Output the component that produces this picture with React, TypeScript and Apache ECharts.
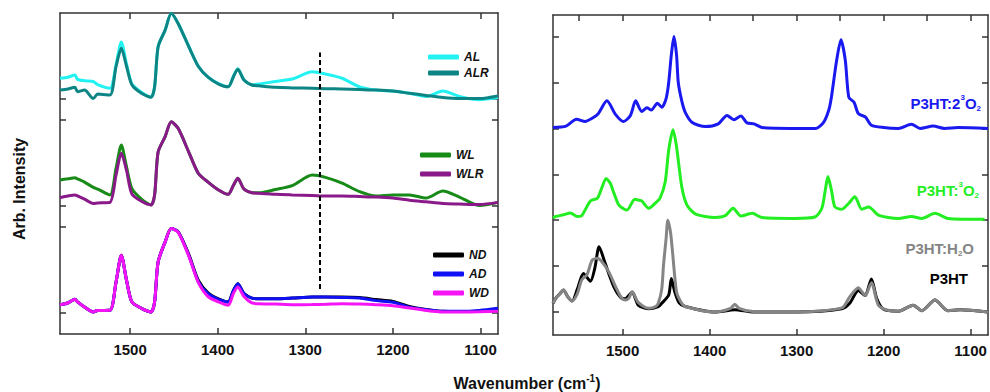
import React, { useEffect, useRef } from "react";
import * as echarts from "echarts";

// ---------- Left panel (shared wavenumber grid) ----------
const leftWave = [1580, 1571, 1563, 1560, 1552, 1542, 1537, 1523, 1516, 1510, 1504, 1498, 1487, 1476, 1472, 1468, 1460, 1453, 1445, 1433, 1422, 1411, 1399, 1388, 1382, 1377, 1370, 1361, 1353, 1334, 1315, 1292, 1277, 1258, 1238, 1219, 1200, 1181, 1162, 1143, 1124, 1101, 1080];

const alValues = [2.39, 2.40, 2.42, 2.38, 2.367, 2.36, 2.33, 2.296, 2.52, 2.73, 2.52, 2.34, 2.26, 2.215, 2.31, 2.685, 2.84, 2.995, 2.90, 2.69, 2.50, 2.40, 2.34, 2.31, 2.41, 2.48, 2.375, 2.33, 2.336, 2.36, 2.383, 2.45, 2.43, 2.39, 2.31, 2.28, 2.27, 2.25, 2.22, 2.27, 2.22, 2.19, 2.21];
const alrValues = [2.28, 2.29, 2.305, 2.265, 2.28, 2.20, 2.243, 2.233, 2.50, 2.67, 2.50, 2.33, 2.25, 2.212, 2.31, 2.685, 2.84, 2.995, 2.90, 2.685, 2.50, 2.40, 2.336, 2.31, 2.405, 2.474, 2.374, 2.327, 2.32, 2.305, 2.30, 2.296, 2.293, 2.29, 2.285, 2.28, 2.27, 2.25, 2.23, 2.21, 2.20, 2.20, 2.224];

const wlValues = [1.44, 1.45, 1.46, 1.45, 1.42, 1.37, 1.355, 1.30, 1.55, 1.766, 1.56, 1.36, 1.26, 1.206, 1.30, 1.70, 1.845, 1.984, 1.92, 1.70, 1.50, 1.42, 1.346, 1.305, 1.39, 1.455, 1.355, 1.32, 1.32, 1.35, 1.386, 1.486, 1.464, 1.41, 1.33, 1.29, 1.30, 1.30, 1.27, 1.336, 1.28, 1.20, 1.23];
const wlrValues = [1.274, 1.29, 1.30, 1.29, 1.26, 1.22, 1.225, 1.23, 1.486, 1.69, 1.526, 1.31, 1.24, 1.206, 1.30, 1.70, 1.845, 1.984, 1.92, 1.70, 1.50, 1.42, 1.346, 1.305, 1.39, 1.455, 1.355, 1.32, 1.315, 1.305, 1.30, 1.295, 1.29, 1.29, 1.285, 1.28, 1.27, 1.25, 1.235, 1.22, 1.215, 1.21, 1.23];

const ndValues = [0.274, 0.29, 0.324, 0.30, 0.252, 0.206, 0.22, 0.221, 0.486, 0.735, 0.50, 0.30, 0.24, 0.206, 0.30, 0.673, 0.86, 0.985, 0.955, 0.745, 0.50, 0.385, 0.328, 0.30, 0.408, 0.47, 0.377, 0.335, 0.33, 0.33, 0.336, 0.346, 0.345, 0.345, 0.34, 0.322, 0.305, 0.258, 0.23, 0.212, 0.21, 0.212, 0.232];
const adValues = [0.274, 0.29, 0.324, 0.30, 0.252, 0.206, 0.22, 0.221, 0.486, 0.735, 0.50, 0.30, 0.24, 0.206, 0.30, 0.673, 0.86, 0.985, 0.953, 0.735, 0.486, 0.377, 0.324, 0.30, 0.408, 0.47, 0.377, 0.335, 0.33, 0.33, 0.336, 0.346, 0.345, 0.342, 0.336, 0.312, 0.296, 0.25, 0.228, 0.212, 0.212, 0.22, 0.24];
const wdValues = [0.274, 0.29, 0.324, 0.30, 0.252, 0.206, 0.22, 0.221, 0.486, 0.735, 0.50, 0.30, 0.24, 0.206, 0.30, 0.673, 0.86, 0.985, 0.95, 0.73, 0.48, 0.35, 0.30, 0.268, 0.38, 0.44, 0.35, 0.29, 0.283, 0.28, 0.274, 0.275, 0.278, 0.283, 0.28, 0.274, 0.265, 0.243, 0.22, 0.206, 0.206, 0.208, 0.212];

// ---------- Right panel ----------
const blueWave = [1580, 1565, 1553, 1543, 1535, 1528, 1518, 1508, 1499, 1491, 1485, 1478, 1472, 1467, 1460, 1455, 1450, 1447, 1444, 1441, 1438, 1436, 1432, 1428, 1420, 1405, 1390, 1380, 1372, 1364, 1357, 1349, 1340, 1300, 1278, 1269, 1263, 1260, 1254, 1249, 1244, 1240, 1234, 1229, 1221, 1214, 1200, 1183, 1168, 1158, 1143, 1130, 1114, 1080];
const blueValues = [4.02, 4.05, 4.2, 4.15, 4.22, 4.32, 4.6, 4.3, 4.15, 4.28, 4.6, 4.37, 4.45, 4.4, 4.55, 4.46, 4.65, 5.0, 5.6, 6.0, 5.6, 5.0, 4.6, 4.35, 4.13, 4.04, 4.1, 4.28, 4.19, 4.27, 4.12, 4.1, 4.02, 4.0, 4.0, 4.13, 4.4, 4.68, 5.48, 5.93, 5.48, 4.68, 4.57, 4.32, 4.25, 4.07, 4.02, 4.0, 4.09, 4.0, 4.05, 4.0, 4.02, 4.0];

const greenWave = [1580, 1577, 1568, 1560, 1552, 1547, 1537, 1529, 1524, 1519, 1514, 1510, 1505, 1502, 1495, 1486, 1482, 1478, 1470, 1462, 1457, 1451, 1447, 1442, 1438, 1432, 1426, 1416, 1394, 1382, 1373, 1364, 1351, 1340, 1302, 1279, 1271, 1267, 1264, 1260, 1256, 1248, 1240, 1233, 1225, 1217, 1206, 1183, 1168, 1156, 1141, 1126, 1084];
const greenValues = [2.05, 2.08, 2.12, 2.16, 2.08, 2.1, 2.42, 2.48, 2.7, 2.91, 2.8, 2.59, 2.35, 2.29, 2.22, 2.455, 2.44, 2.42, 2.26, 2.38, 2.48, 2.84, 3.53, 3.97, 3.6, 2.73, 2.33, 2.135, 2.06, 2.1, 2.26, 2.09, 2.15, 2.06, 2.04, 2.07, 2.26, 2.66, 2.95, 2.66, 2.29, 2.24, 2.37, 2.51, 2.24, 2.29, 2.11, 2.04, 2.08, 2.04, 2.15, 2.04, 2.02];

const grayWave = [1580, 1577, 1572, 1568, 1563, 1558, 1552, 1547, 1541, 1535, 1529, 1524, 1516, 1508, 1502, 1497, 1493, 1489, 1482, 1470, 1462, 1459, 1455, 1453, 1450, 1448, 1445, 1443, 1438, 1433, 1428, 1394, 1376, 1371, 1366, 1350, 1300, 1248, 1239, 1229, 1224, 1221, 1214, 1206, 1195, 1183, 1166, 1156, 1141, 1126, 1112, 1080];
const grayValues = [0.19, 0.3, 0.4, 0.48, 0.33, 0.24, 0.4, 0.7, 0.81, 1.13, 1.17, 1.1, 0.88, 0.55, 0.33, 0.26, 0.3, 0.44, 0.21, 0.08, 0.12, 0.19, 0.5, 1.02, 1.6, 2.0, 1.75, 1.39, 0.44, 0.22, 0.12, 0.0, 0.08, 0.17, 0.08, 0.01, 0.0, 0.09, 0.33, 0.53, 0.42, 0.36, 0.64, 0.15, 0.04, 0.02, 0.15, 0.03, 0.26, 0.03, 0.05, 0.0];

const blackWave = [1580, 1577, 1572, 1568, 1563, 1558, 1552, 1545, 1537, 1532, 1527, 1520, 1510, 1501, 1497, 1489, 1482, 1470, 1459, 1455, 1447, 1444, 1440, 1435, 1428, 1394, 1371, 1350, 1300, 1248, 1239, 1229, 1224, 1221, 1214, 1208, 1200, 1183, 1166, 1156, 1141, 1126, 1112, 1080];
const blackValues = [0.19, 0.3, 0.4, 0.48, 0.33, 0.24, 0.5, 0.84, 0.67, 0.95, 1.42, 1.06, 0.55, 0.3, 0.29, 0.43, 0.15, 0.07, 0.12, 0.19, 0.37, 0.73, 0.44, 0.2, 0.12, 0.0, 0.05, 0.0, 0.0, 0.07, 0.19, 0.47, 0.4, 0.36, 0.72, 0.3, 0.06, 0.02, 0.15, 0.03, 0.26, 0.03, 0.05, 0.0];

// ---------- Axis ticks / labels ----------
const xLabelValues = [1500, 1400, 1300, 1200, 1100];
const xMinorTicks = [1550, 1500, 1450, 1400, 1350, 1300, 1250, 1200, 1150, 1100];
const leftYTicks = [0.2, 1.0, 1.2, 2.0, 2.2];
const rightYTicks = [0, 1, 2, 3, 4, 5, 6];
const dashedLineWave = 1283;
const dashedLineRange = [0.42, 2.63];

const FONT = 'Arial, "Liberation Sans", sans-serif';
const FRAME = "#333";

const zip = (xs: number[], ys: number[]) => xs.map((x, i) => [x, ys[i]]);

function xAxisDef(gridIndex: number, position: "top" | "bottom", showLabels: boolean, ticks: number[]) {
  return {
    type: "value",
    gridIndex,
    position,
    min: 1080,
    max: 1580,
    inverse: true,
    axisLine: { show: true, onZero: false, lineStyle: { color: FRAME, width: 1.5 } },
    axisTick: { show: true, inside: true, length: 6, customValues: ticks, lineStyle: { color: FRAME, width: 1.5 } },
    axisLabel: {
      show: showLabels,
      customValues: xLabelValues,
      formatter: (v: number) => String(v),
      margin: 8,
      color: "#111",
      fontSize: 15,
      fontWeight: "bold",
      fontFamily: FONT,
    },
    splitLine: { show: false },
  };
}

function yAxisDef(gridIndex: number, position: "left" | "right", min: number, max: number, ticks: number[]) {
  return {
    type: "value",
    gridIndex,
    position,
    min,
    max,
    axisLine: { show: true, onZero: false, lineStyle: { color: FRAME, width: 1.5 } },
    axisTick: { show: true, inside: true, length: 6, customValues: ticks, lineStyle: { color: FRAME, width: 1.5 } },
    axisLabel: { show: false },
    splitLine: { show: false },
  };
}

function lineSeries(name: string, data: number[][], color: string, axis: number, extra: any = {}) {
  return {
    name,
    type: "line",
    xAxisIndex: axis,
    yAxisIndex: axis,
    data,
    showSymbol: false,
    symbol: "none",
    smooth: 0.25,
    color,
    itemStyle: { color },
    lineStyle: { color, width: 3 },
    emphasis: { disabled: true },
    ...extra,
  };
}

function legendDef(names: string[], left: number, top: number, gap: number) {
  return {
    data: names,
    orient: "vertical",
    left,
    top,
    itemWidth: 31,
    itemHeight: 5,
    itemGap: gap,
    icon: "roundRect",
    selectedMode: false,
    padding: 0,
    textStyle: { fontStyle: "italic", fontWeight: "bold", fontSize: 12, lineHeight: 14, color: "#111", fontFamily: FONT },
  };
}

function richLabel(text: string, x: number, y: number, color: string) {
  return {
    type: "text",
    x,
    y,
    style: {
      text,
      fill: color,
      fontSize: 15,
      fontWeight: "bold",
      fontFamily: FONT,
      align: "right",
      verticalAlign: "middle",
      lineHeight: 19,
      rich: {
        sup: { fontSize: 8, fontWeight: "bold", fontFamily: FONT, fill: color, verticalAlign: "top", lineHeight: 19 },
        sub: { fontSize: 8, fontWeight: "bold", fontFamily: FONT, fill: color, verticalAlign: "bottom", lineHeight: 19 },
      },
    },
  };
}

export default function App() {
  const ref = useRef<HTMLDivElement>(null);
  useEffect(() => {
    if (!ref.current) return;
    const chart = echarts.init(ref.current, undefined, { renderer: "svg" });
    const option: any = {
      animation: false,
      backgroundColor: "#fff",
      grid: [
        { left: 60, top: 13, width: 438, height: 321, outerBoundsMode: "none", containLabel: false },
        { left: 553, top: 15, width: 435, height: 320, outerBoundsMode: "none", containLabel: false },
      ],
      xAxis: [
        xAxisDef(0, "bottom", true, xLabelValues),
        xAxisDef(0, "top", false, xLabelValues),
        xAxisDef(1, "bottom", true, xLabelValues),
        xAxisDef(1, "top", false, xMinorTicks),
      ],
      yAxis: [
        yAxisDef(0, "left", 0, 3, leftYTicks),
        yAxisDef(0, "right", 0, 3, leftYTicks),
        yAxisDef(1, "left", -0.5, 6.47, rightYTicks),
        yAxisDef(1, "right", -0.5, 6.47, rightYTicks),
      ],
      legend: [
        legendDef(["AL", "ALR"], 428, 50, 2),
        legendDef(["WL", "WLR"], 420, 148, 5),
        legendDef(["ND", "AD", "WD"], 433, 248, 5),
      ],
      series: [
        lineSeries("AL", zip(leftWave, alValues), "#22f2f2", 0),
        lineSeries("ALR", zip(leftWave, alrValues), "#0d8585", 0, {
          markLine: {
            silent: true,
            symbol: ["none", "none"],
            label: { show: false },
            lineStyle: { color: "#000", type: [5, 3], width: 2 },
            data: [[{ coord: [dashedLineWave, dashedLineRange[0]] }, { coord: [dashedLineWave, dashedLineRange[1]] }]],
          },
        }),
        lineSeries("WL", zip(leftWave, wlValues), "#188a18", 0),
        lineSeries("WLR", zip(leftWave, wlrValues), "#8a1a8a", 0),
        lineSeries("ND", zip(leftWave, ndValues), "#000000", 0),
        lineSeries("AD", zip(leftWave, adValues), "#1010f5", 0),
        lineSeries("WD", zip(leftWave, wdValues), "#f514f5", 0),
        lineSeries("P3HT:2³O₂", zip(blueWave, blueValues), "#1a1af0", 2),
        lineSeries("P3HT:³O₂", zip(greenWave, greenValues), "#22ee22", 2),
        lineSeries("P3HT", zip(blackWave, blackValues), "#000000", 2),
        lineSeries("P3HT:H₂O", zip(grayWave, grayValues), "#858585", 2),
      ],
      graphic: [
        {
          type: "text",
          x: 19,
          y: 189,
          rotation: Math.PI / 2,
          style: { text: "Arb. Intensity", fill: "#111", fontSize: 16, fontWeight: "bold", fontFamily: FONT, align: "center", verticalAlign: "middle" },
        },
        {
          type: "text",
          x: 527,
          y: 383,
          style: {
            text: "Wavenumber (cm{sup|-1})",
            fill: "#111",
            fontSize: 16,
            fontWeight: "bold",
            fontFamily: FONT,
            align: "center",
            verticalAlign: "middle",
            lineHeight: 20,
            rich: { sup: { fontSize: 10, fontWeight: "bold", fontFamily: FONT, fill: "#111", verticalAlign: "top", lineHeight: 20 } },
          },
        },
        richLabel("P3HT:2{sup|3}O{sub|2}", 981, 103, "#1a1af0"),
        richLabel("P3HT:{sup|3}O{sub|2}", 979, 190, "#22ee22"),
        richLabel("P3HT:H{sub|2}O", 974, 248, "#858585"),
        richLabel("P3HT", 968, 278, "#000000"),
      ],
    };
    chart.setOption(option);
    return () => chart.dispose();
  }, []);
  return <div ref={ref} style={{ position: "fixed", left: 0, top: 0, width: 990, height: 392 }} />;
}
